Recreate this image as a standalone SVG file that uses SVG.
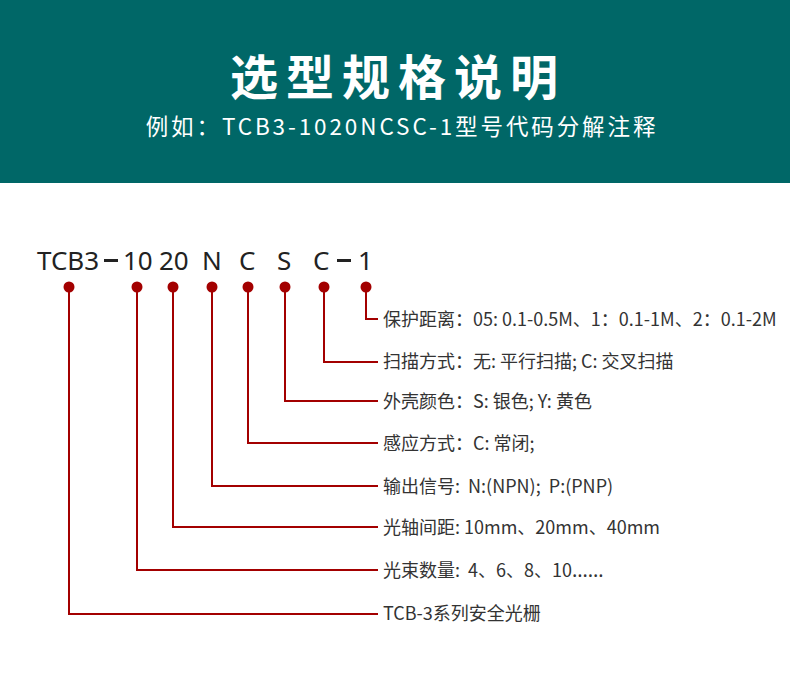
<svg xmlns="http://www.w3.org/2000/svg" width="790" height="690" viewBox="0 0 790 690">
<defs>
<style>
.hd{fill:#ffffff;font-family:"Noto Sans CJK SC","Noto Sans",sans-serif;text-anchor:middle}
.code{fill:#222222;font-family:"Noto Sans","Noto Sans CJK SC",sans-serif;font-size:26px}
.lbl{fill:#333333;font-family:"Noto Sans CJK SC","Noto Sans",sans-serif;font-size:18px}
.lat{font-family:"Noto Sans",sans-serif;font-size:20px}
.dot{fill:#a30000}
.ln{fill:none;stroke:#a30000;stroke-width:2}
</style>
</defs>
<rect x="0" y="0" width="790" height="690" fill="#ffffff"/>
<g id="header">
<rect x="0" y="0" width="790" height="183" fill="#006767"/>
<text class="hd" x="398" y="95" font-size="48" font-weight="bold" letter-spacing="8">选型规格说明</text>
<text class="hd" x="402" y="135" font-size="22.5" letter-spacing="2.9">例如：TCB3-1020NCSC-1型号代码分解注释</text>
</g>
<g id="code">
<text class="code" x="37" y="270">TCB3</text>
<rect x="104" y="259" width="14" height="3" fill="#222222"/>
<text class="code" x="123" y="270">10</text>
<text class="code" x="159" y="270">20</text>
<text class="code" x="202" y="270">N</text>
<text class="code" x="239" y="270">C</text>
<text class="code" x="277" y="270">S</text>
<text class="code" x="313" y="270">C</text>
<rect x="337" y="259" width="14" height="3" fill="#222222"/>
<text class="code" x="358" y="270">1</text>
</g>
<g id="connectors">
<polyline class="ln" points="366,287 366,319 378,319"/>
<polyline class="ln" points="324,287 324,362 378,362"/>
<polyline class="ln" points="285,287 285,401 378,401"/>
<polyline class="ln" points="248,287 248,443 378,443"/>
<polyline class="ln" points="212,287 212,486 378,486"/>
<polyline class="ln" points="173,287 173,527 378,527"/>
<polyline class="ln" points="137,287 137,570 378,570"/>
<polyline class="ln" points="69,287 69,614 378,614"/>
</g>
<g id="dots">
<circle class="dot" cx="69" cy="287" r="5.5"/>
<circle class="dot" cx="137" cy="287" r="5.5"/>
<circle class="dot" cx="173" cy="287" r="5.5"/>
<circle class="dot" cx="212" cy="287" r="5.5"/>
<circle class="dot" cx="248" cy="287" r="5.5"/>
<circle class="dot" cx="285" cy="287" r="5.5"/>
<circle class="dot" cx="324" cy="287" r="5.5"/>
<circle class="dot" cx="366" cy="287" r="5.5"/>
</g>
<g id="label-1"><text class="lbl" x="383" y="326">保护距离：05: 0.1-0.5M、1：0.1-1M、2：0.1-2M</text></g>
<g id="label-2"><text class="lbl" x="383" y="368">扫描方式：无: 平行扫描; C: 交叉扫描</text></g>
<g id="label-3"><text class="lbl" x="383" y="408">外壳颜色：S: 银色; Y: 黄色</text></g>
<g id="label-4"><text class="lbl" x="383" y="450">感应方式：C: 常闭;</text></g>
<g id="label-5"><text class="lbl" x="383" y="493" xml:space="preserve">输出信号:  N:(NPN);  P:(PNP)</text></g>
<g id="label-6"><text class="lbl" x="383" y="534">光轴间距: 10mm、20mm、40mm</text></g>
<g id="label-7"><text class="lbl" x="383" y="577" xml:space="preserve">光束数量:  4、6、8、10<tspan class="lat">……</tspan></text></g>
<g id="label-8"><text class="lbl" x="383" y="620">TCB-3系列安全光栅</text></g>
</svg>
